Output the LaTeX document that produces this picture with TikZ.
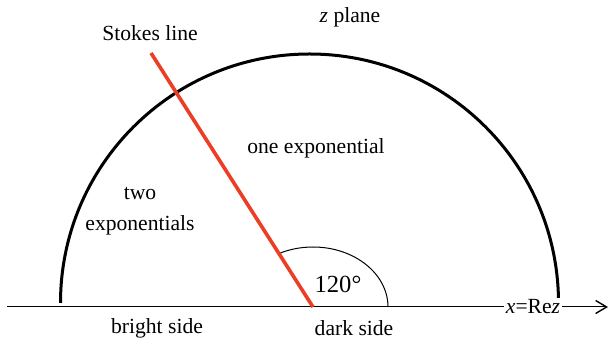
\documentclass[tikz,border=0pt]{standalone}
\usepackage{fontspec}
\setmainfont{Liberation Serif}
\usepackage{xcolor}
\definecolor{stokesred}{RGB}{236, 62, 36}
\usepackage{tikz}
\usetikzlibrary{arrows.meta,positioning,calc}

\begin{document}
\begin{tikzpicture}[
  x=0.5pt, y=0.5pt,
  every node/.style={font=\fontsize{10.8}{15.5}\selectfont, inner sep=1pt},
  txt/.style={align=center},
  axis/.style={line width=0.5pt, -{Straight Barb[length=5.5pt, width=6.5pt, line width=0.7pt]}},
  halfcircle/.style={line width=1.5pt},
  stokesline/.style={draw=stokesred, line width=1.8pt},
  anglearc/.style={line width=0.5pt}
]
\useasboundingbox (0,0) rectangle (610,342);
\coordinate (O) at (313, 35);
\coordinate (C) at (309.5, 39);
\coordinate (axL) at (7, 35);
\coordinate (axR) at (608, 35);
\coordinate (stk) at (151, 289);
\node[txt] (zplane) at (350, 325) {\textit{z} plane};
\node[txt] (stokes) at (150, 309) {Stokes line};
\node[txt] (one) at (316, 194) {one exponential};
\node[txt] (two) at (140, 131) {two\\exponentials};
\node[txt] (bright) at (157, 14) {bright side};
\node[txt] (dark) at (354, 14) {dark side};
\node[txt, font=\fontsize{12.3}{14}\selectfont] (deg) at (338, 58) {120°};
\draw[halfcircle] ($(C)+(-249,0)$) arc[start angle=180, end angle=0, radius=249];
\draw[axis] (axL) -- (axR);
\node[txt, fill=white] (re) at (533, 35) {\textit{x}=Re\textit{z}};
\draw[anglearc] ($(O)+(75,0)$) arc[start angle=0, end angle=117, x radius=75, y radius=60];
\draw[stokesline] (O) -- (stk);
\end{tikzpicture}
\end{document}
